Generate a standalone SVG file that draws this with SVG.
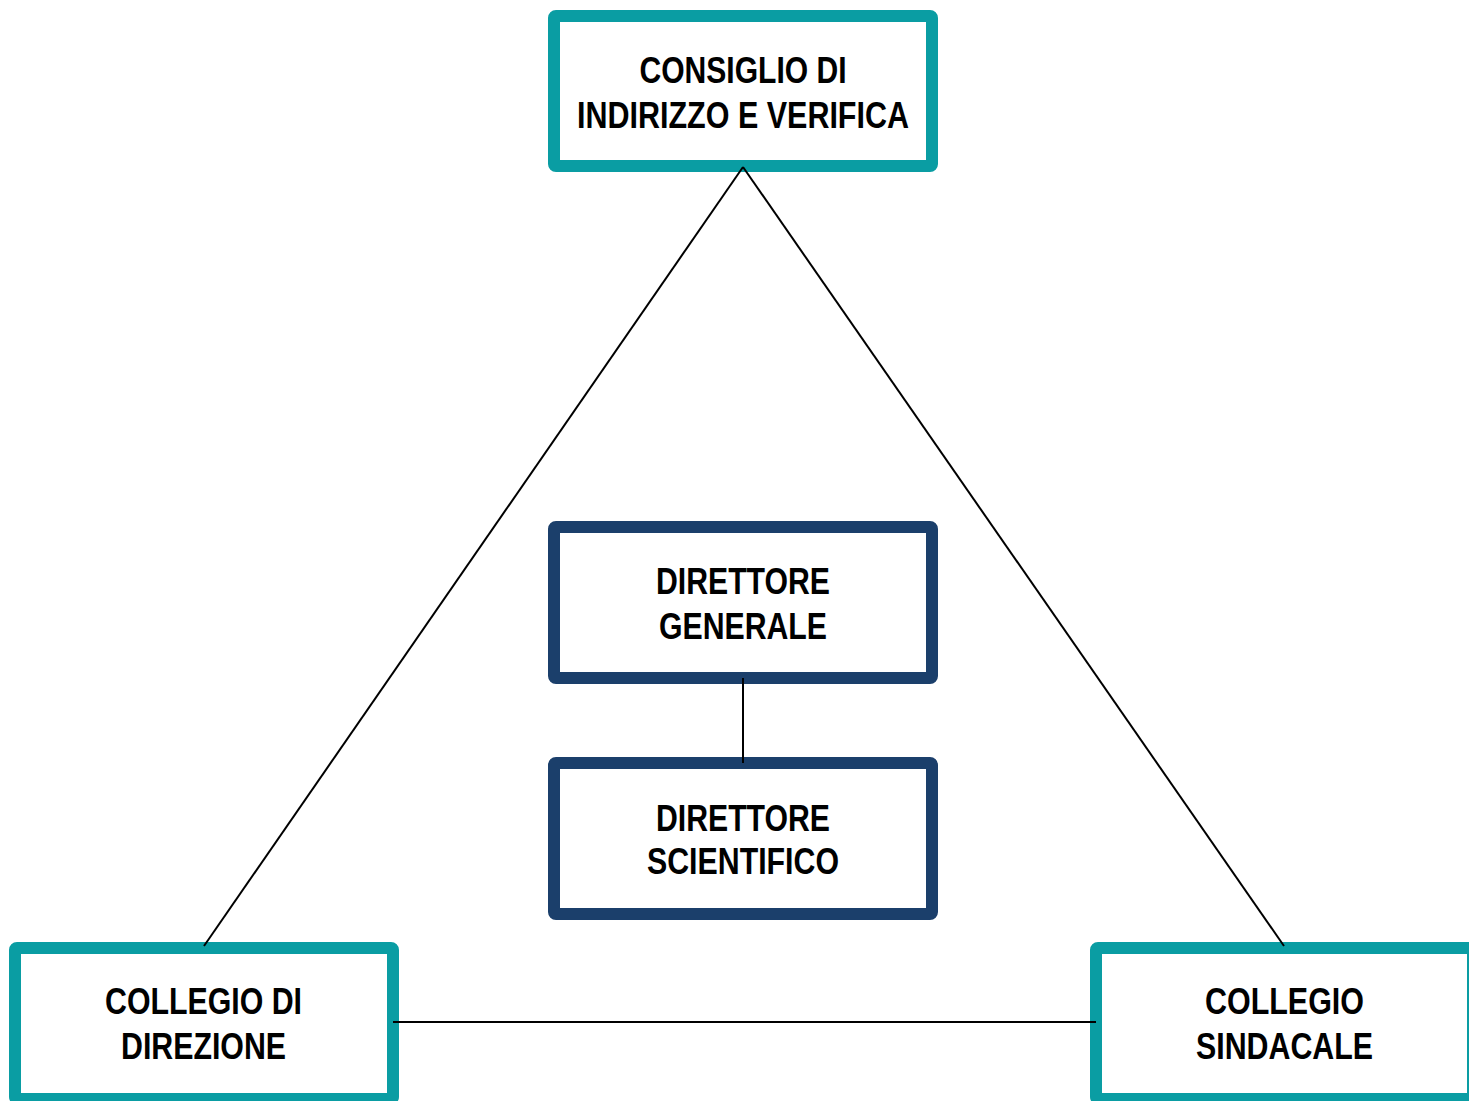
<svg xmlns="http://www.w3.org/2000/svg" width="1469" height="1101" viewBox="0 0 1469 1101">
<style>
.box{fill:#fff;stroke-width:12;stroke-linejoin:round}
.teal{stroke:#0A9DA3}
.navy{stroke:#1B3F6B}
.t{font-family:"Liberation Sans",Arial,sans-serif;font-weight:bold;font-size:37px;fill:#000;text-anchor:middle}
.c{stroke:#000;stroke-width:2;fill:none}
</style>
<rect width="1469" height="1101" fill="#fff"/>
<g id="consiglio">
<rect class="box teal" x="554" y="16" width="378" height="150" rx="2"/>
<text class="t" x="743" y="83" textLength="207" lengthAdjust="spacingAndGlyphs">CONSIGLIO DI</text>
<text class="t" x="743" y="128" textLength="332" lengthAdjust="spacingAndGlyphs">INDIRIZZO E VERIFICA</text>
</g>
<g id="direttore-generale">
<rect class="box navy" x="554" y="527" width="378" height="151" rx="2"/>
<text class="t" x="743" y="594" textLength="174" lengthAdjust="spacingAndGlyphs">DIRETTORE</text>
<text class="t" x="743" y="639" textLength="168" lengthAdjust="spacingAndGlyphs">GENERALE</text>
</g>
<g id="direttore-scientifico">
<rect class="box navy" x="554" y="763" width="378" height="151" rx="2"/>
<text class="t" x="743" y="831" textLength="174" lengthAdjust="spacingAndGlyphs">DIRETTORE</text>
<text class="t" x="743" y="874" textLength="192" lengthAdjust="spacingAndGlyphs">SCIENTIFICO</text>
</g>
<g id="collegio-direzione">
<rect class="box teal" x="15" y="948" width="378" height="151" rx="2"/>
<text class="t" x="203.5" y="1014" textLength="197" lengthAdjust="spacingAndGlyphs">COLLEGIO DI</text>
<text class="t" x="203.5" y="1059" textLength="165" lengthAdjust="spacingAndGlyphs">DIREZIONE</text>
</g>
<g id="collegio-sindacale">
<rect class="box teal" x="1096" y="948" width="377" height="151" rx="2"/>
<text class="t" x="1284.5" y="1014" textLength="159" lengthAdjust="spacingAndGlyphs">COLLEGIO</text>
<text class="t" x="1284.5" y="1059" textLength="177" lengthAdjust="spacingAndGlyphs">SINDACALE</text>
</g>
<g id="connectors">
<line class="c" x1="743" y1="167" x2="204" y2="946"/>
<line class="c" x1="743" y1="167" x2="1284" y2="946"/>
<line class="c" x1="393" y1="1022" x2="1096" y2="1022"/>
<line class="c" x1="743" y1="678" x2="743" y2="763"/>
</g>
</svg>
